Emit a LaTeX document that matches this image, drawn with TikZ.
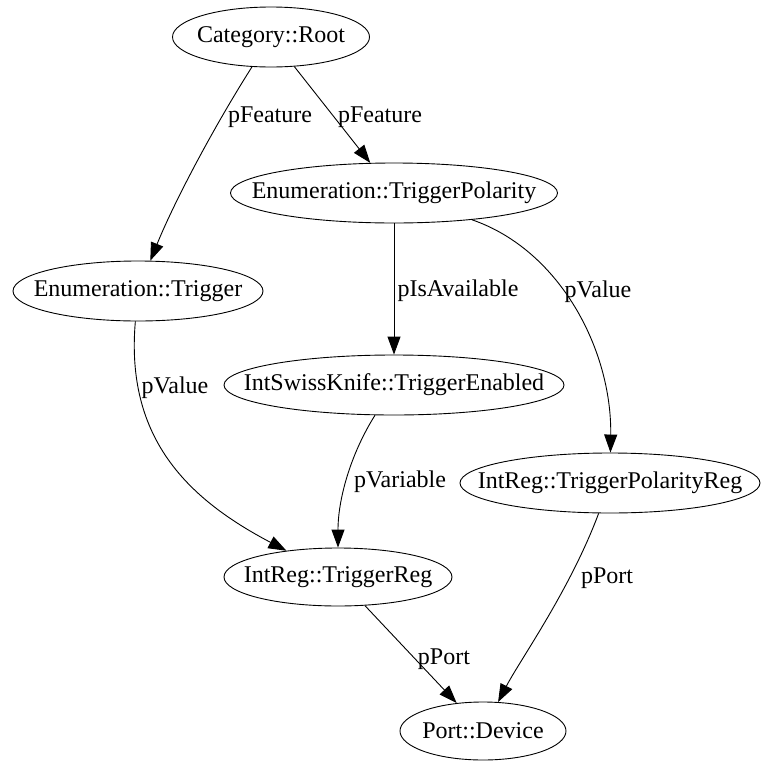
\documentclass[tikz,border=0pt]{standalone}
\usepackage{fontspec}
\setmainfont{Liberation Serif}
\usetikzlibrary{shapes.geometric,arrows.meta}
\newcommand{\flatlabel}[1]{\makebox[0pt]{#1}}

\begin{document}
\begin{tikzpicture}[x=1pt,y=-1pt]
    \pgfmathsetmacro{\nodeheight}{60}
    \providecommand{\graphfontsize}{\fontsize{24}{28}\selectfont}
    \tikzset{
        member/.style={draw,ellipse,line width=0.9pt,inner sep=0pt,minimum height=\nodeheight pt,font=\graphfontsize},
        relname/.style={inner sep=0pt,font=\graphfontsize},
        link/.style={line width=0.9pt,-{Triangle[length=18pt,width=13pt]}},
    }
    \useasboundingbox (0,0) rectangle (761,761);
    % features
    \node[member,minimum width=197pt] (root) at (271,37) {\flatlabel{Category::Root}};
    \node[member,minimum width=327pt] (trigpol) at (394,193) {\flatlabel{Enumeration::TriggerPolarity}};
    \node[member,minimum width=250pt] (trig) at (138,291) {\flatlabel{Enumeration::Trigger}};
    \node[member,minimum width=340pt] (swiss) at (394,385) {\flatlabel{IntSwissKnife::TriggerEnabled}};
    \node[member,minimum width=300pt] (polreg) at (610,483) {\flatlabel{IntReg::TriggerPolarityReg}};
    \node[member,minimum width=228pt,minimum height=58pt] (trigreg) at (338,577) {\flatlabel{IntReg::TriggerReg}};
    \node[member,minimum width=166pt,minimum height=58pt] (port) at (483,731) {\flatlabel{Port::Device}};
    % edge labels
    \node[relname] (featleft) at (270,117) {pFeature};
    \node[relname] (featright) at (380,117) {pFeature};
    \node[relname] (avail) at (458,291) {pIsAvailable};
    \node[relname] (valright) at (598,292) {pValue};
    \node[relname] (valleft) at (175,388) {pValue};
    \node[relname] (variable) at (400,482) {pVariable};
    \node[relname] (portright) at (607,578) {pPort};
    \node[relname] (portleft) at (444,659) {pPort};
    % edges
    \draw[link] (root) .. controls (215,125) and (175,200) .. (trig);
    \draw[link] (root) -- (trigpol);
    \draw[link] (trigpol) -- (swiss);
    \draw[link] (trigpol) .. controls (560,250) and (612,350) .. (polreg);
    \draw[link] (trig) .. controls (125,440) and (190,500) .. (trigreg.153);
    \draw[link] (swiss) .. controls (350,455) and (338,500) .. (trigreg.north);
    \draw[link] (trigreg) -- (port);
    \draw[link] (polreg) .. controls (570,590) and (520,660) .. (port);
\end{tikzpicture}
\end{document}
